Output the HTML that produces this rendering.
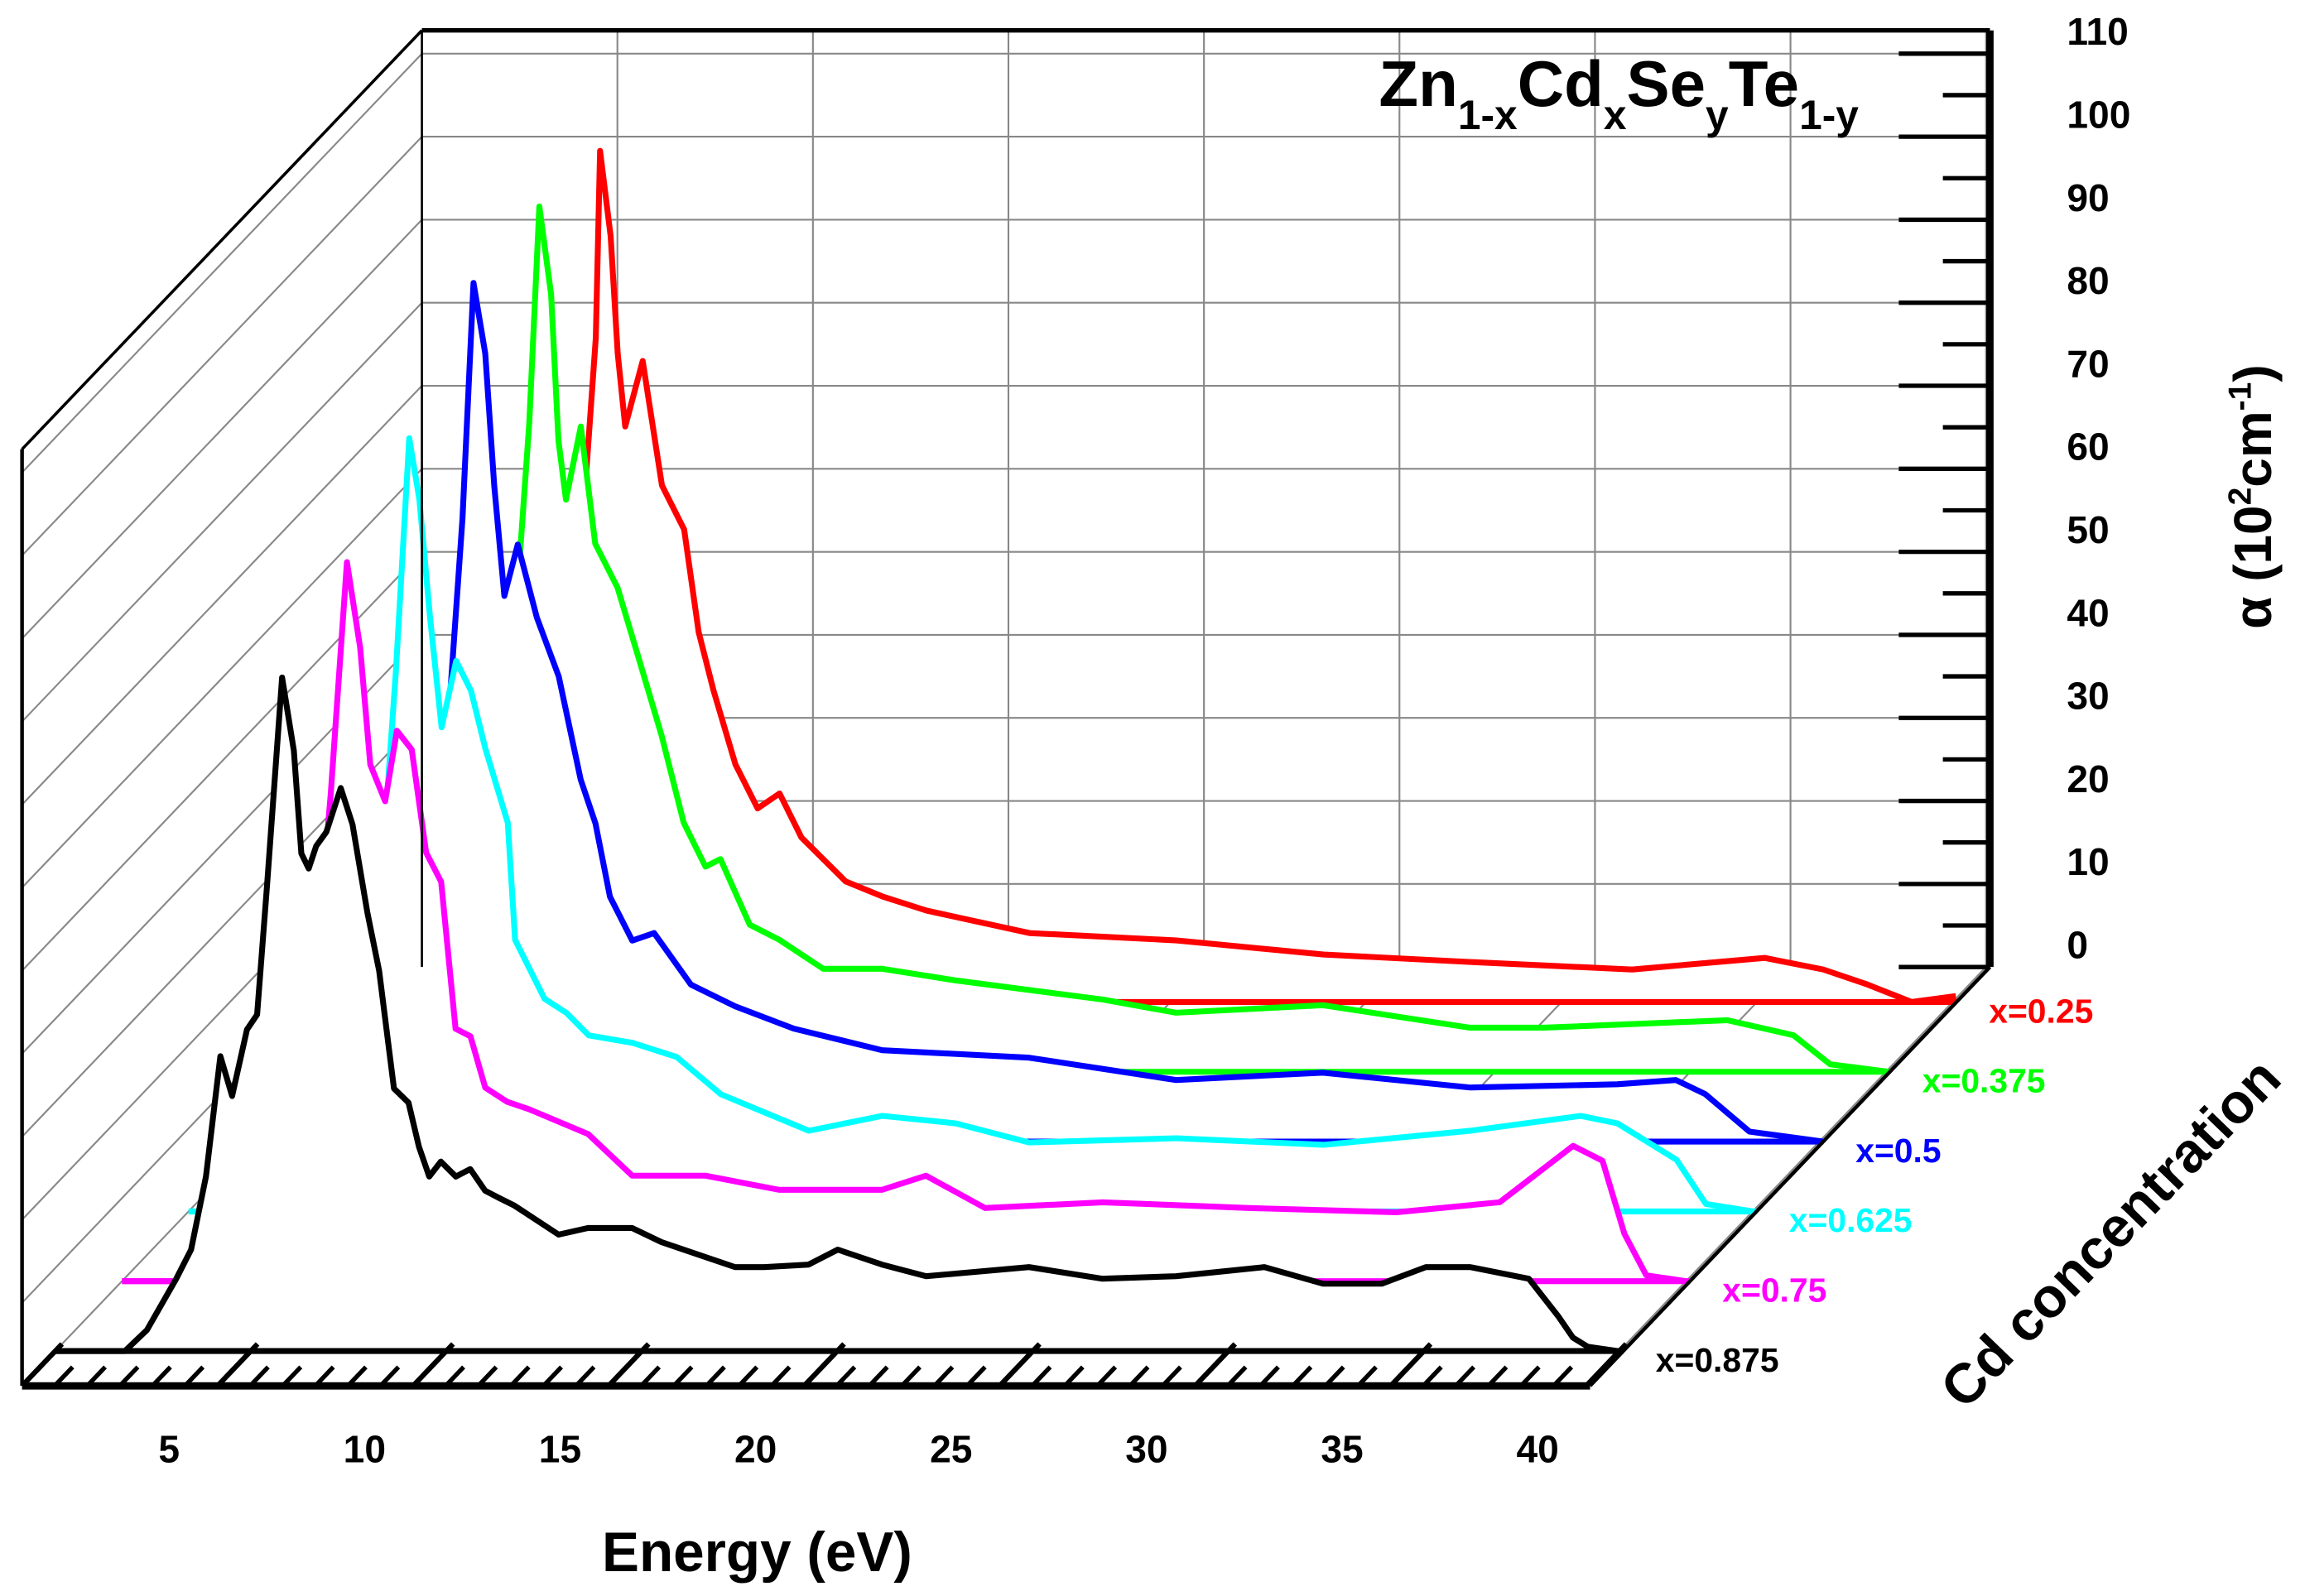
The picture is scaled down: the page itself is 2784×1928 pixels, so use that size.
<!DOCTYPE html>
<html><head><meta charset="utf-8"><style>
html,body{margin:0;padding:0;background:#fff;}
svg{display:block;}
text{font-family:"Liberation Sans",Arial,sans-serif;font-weight:bold;}
</style></head><body>
<svg id="chart" xmlns="http://www.w3.org/2000/svg" width="2784" height="1928" viewBox="0 0 1568 1086" preserveAspectRatio="none">
<g id="grid"></g>
<g id="series"></g>
<g id="axes"></g>
<text x="938" y="72" font-size="44" style="font-family:'Liberation Sans Narrow','Liberation Sans',sans-serif">Zn<tspan font-size="28" dy="16">1-x</tspan><tspan dy="-16">Cd</tspan><tspan font-size="28" dy="16">x</tspan><tspan dy="-16">Se</tspan><tspan font-size="28" dy="16">y</tspan><tspan dy="-16">Te</tspan><tspan font-size="28" dy="16">1-y</tspan></text>
<text x="515" y="1069" font-size="38" text-anchor="middle">Energy (eV)</text>
<text transform="translate(1545,338) rotate(-90)" font-size="36" text-anchor="middle">α (10<tspan font-size="22" dy="-14">2</tspan><tspan dy="14">cm</tspan><tspan font-size="22" dy="-14">-1</tspan><tspan dy="14">)</tspan></text>
<text transform="translate(1445,848) rotate(-46)" font-size="38" text-anchor="middle">Cd concentration</text>
</svg>
<script>
const NS="http://www.w3.org/2000/svg";
// ---- data ----
const seriesNames=["x=0.25","x=0.375","x=0.5","x=0.625","x=0.75","x=0.875"];
const seriesColors=["#ff0000","#00ff00","#0000ff","#00ffff","#ff00ff","#000000"];
const energyTicks=[5,10,15,20,25,30,35,40];
const alphaTicks=[0,10,20,30,40,50,60,70,80,90,100,110];
const eRed=[0,1.8,2.4,3.1,3.5,3.9,4.3,4.6,5.0,5.3,5.41,5.68,5.86,6.05,6.5,6.99,7.56,7.93,8.31,8.87,9.44,10,10.56,11.69,12.63,13.76,16.39,20.15,23.91,27.67,31.8,35.19,36.69,37.82,38.95,40.08];
const aRed=[0,0,3,11,16,27,44,42,60,80,102.5,92.2,78.1,69.3,77.2,62.2,56.9,44.5,37.5,28.6,23.3,25.1,19.8,14.5,12.7,11,8.3,7.4,5.7,4.8,3.9,5.3,3.9,2.1,0,0.7];
const eGreen=[0,1.8,2.4,3.1,3.5,3.9,4.3,4.6,5.0,5.3,5.56,5.86,6.05,6.24,6.62,6.99,7.56,8.12,8.68,9.25,9.81,10.19,10.94,11.69,12.82,14.32,16.2,19.96,21.84,25.6,29.36,31.24,35.94,37.63,38.57,40.08];
const aGreen=[0,0,3,11,16,27,44,40,58,78,104.2,93.6,76,68.9,77.7,63.6,58.3,49.5,40.6,30,24.7,25.6,17.7,15.9,12.4,12.4,11,8.7,7.1,8,5.3,5.3,6.2,4.4,0.9,0];
const eBlue=[0,1.8,2.4,3.1,3.5,3.9,4.3,4.6,5.0,5.3,5.58,5.88,6.11,6.37,6.71,7.2,7.76,8.32,8.7,9.07,9.64,10.2,11.14,12.27,13.77,16.03,19.79,23.55,27.3,31.07,34.83,36.33,37.08,38.21,40.09];
const aBlue=[0,0,3,11,15,26,42,38,55,75,103.4,94.9,79,65.7,71.9,63.1,56,43.6,38.3,29.5,24.2,25.1,18.9,16.3,13.6,11,10.1,7.4,8.3,6.5,6.9,7.4,5.7,1.2,0];
const eCyan=[0,1.8,2.4,3.1,3.5,3.9,4.3,4.6,5.0,5.3,5.64,5.9,6.17,6.47,6.84,7.22,7.59,8.16,8.35,9.1,9.66,10.23,11.35,12.48,13.61,15.86,17.74,19.62,21.5,25.26,29.02,32.78,35.6,36.54,38.05,38.8,40];
const aCyan=[0,0,3,10,14,24,38,33,45,65,93.1,85.7,71.6,58.3,66.3,62.7,55.7,46.8,32.7,25.6,23.9,21.2,20.3,18.6,14.1,9.7,11.5,10.6,8.3,8.8,8,9.7,11.5,10.6,6.2,0.9,0];
const eMagenta=[0,1.8,2.4,3.1,3.5,3.9,4.3,4.6,5.0,5.34,5.75,6.09,6.35,6.73,7.03,7.41,7.78,8.16,8.53,8.91,9.29,9.85,10.41,11.92,13.05,14.92,16.8,19.44,20.56,22.07,25.08,28.83,32.59,35.23,37.11,37.86,38.42,38.98,40];
const aMagenta=[0,0,2.5,9,13,22,36,31,40,58.7,86.6,76.3,62.2,57.8,66.3,64,51.6,48.1,30.4,29.5,23.3,21.6,20.7,17.7,12.7,12.7,11,11,12.7,8.8,9.5,8.8,8.3,9.5,16.3,14.5,5.7,0.7,0];
const eBlack=[0,1.78,2.34,3.09,3.47,3.85,4.22,4.52,4.9,5.16,5.42,5.8,6.1,6.29,6.48,6.67,6.93,7.3,7.6,7.98,8.28,8.66,9.03,9.3,9.56,9.86,10.24,10.61,10.99,11.36,11.74,12.87,13.62,14.75,15.5,16.63,17.38,18.13,19.26,20.01,21.14,22.27,24.9,26.78,28.66,30.92,32.42,33.92,35.05,36.18,37.68,38.43,38.81,39.19,39.94];
const aBlack=[0,0,2.5,8.7,12.2,21,35.5,30.7,38.7,40.5,56.4,81.1,72.3,59.9,58.1,60.8,62.5,67.8,63.4,52.8,45.8,31.6,29.9,24.6,21,22.8,21,21.9,19.3,18.4,17.5,14,14.8,14.8,13.1,11.3,10.1,10.1,10.4,12.2,10.4,9,10.1,8.7,9,10.1,8.1,8.1,10.1,10.1,8.7,4.2,1.6,0.5,0];
const seriesE=[eRed,eGreen,eBlue,eCyan,eMagenta,eBlack];
const seriesA=[aRed,aGreen,aBlue,aCyan,aMagenta,aBlack];
// ---- geometry ----
const X0=15,Y0=943,PXE=26.6,PXA=5.65,DX=272,DY=-285,EMAX=40.1,AMAX=112.8,NS_=6;
function xE(e,depth){return X0+e*PXE+depth*DX;}
function yA(a,depth){return Y0+depth*DY-a*PXA;}
function mk(tag,attrs,parent){const el=document.createElementNS(NS,tag);for(const k in attrs)el.setAttribute(k,attrs[k]);parent.appendChild(el);return el;}
const grid=document.getElementById('grid'),ser=document.getElementById('series'),axes=document.getElementById('axes');
for(let v=10;v<=110;v+=10){
 let l=mk('line',{x1:xE(0,1),y1:yA(v,1),x2:xE(EMAX,1),y2:yA(v,1),stroke:'#888','stroke-width':1.2},grid);
 
 
 let d=mk('line',{x1:xE(0,0),y1:yA(v,0),x2:xE(0,1),y2:yA(v,1),stroke:'#888','stroke-width':1.2},grid);
 
 
}
for(const e of energyTicks){
 if(e>=EMAX)continue;
 let l=mk('line',{x1:xE(e,1),y1:yA(0,1),x2:xE(e,1),y2:yA(AMAX,1),stroke:'#888','stroke-width':1.2},grid);
 
 
 let f=mk('line',{x1:xE(e,0),y1:yA(0,0),x2:xE(e,1),y2:yA(0,1),stroke:'#888','stroke-width':1.2},grid);
 
 
}
mk('line',{x1:xE(0,0),y1:yA(0,0),x2:xE(0,1),y2:yA(0,1),stroke:'#888','stroke-width':1.2},grid);
for(let s=0;s<NS_;s++){
 const depth=(NS_-1-s+0.5)/NS_;
 const E=seriesE[s],A=seriesA[s];
 let pts=E.map((e,i)=>xE(e,depth).toFixed(1)+','+yA(A[i],depth).toFixed(1));
 const base=yA(0,depth).toFixed(1);
 const g=mk('g',{},ser);
 
 
 const fill=mk('polygon',{points:pts.join(' ')+' '+xE(E[E.length-1],depth).toFixed(1)+','+base+' '+xE(E[0],depth).toFixed(1)+','+base,fill:'#fff',stroke:'none'},g);
 
 
 const bl=mk('line',{x1:xE(0,depth),y1:base,x2:xE(EMAX,depth),y2:base,stroke:seriesColors[s],'stroke-width':4},g);
 
 
 const pl=mk('polyline',{points:pts.join(' '),fill:'none',stroke:seriesColors[s],'stroke-width':4,'stroke-linejoin':'round'},g);
 
 
 const lb=mk('text',{x:xE(EMAX,depth)+22,y:+base+14,'font-size':23,fill:seriesColors[s]},g);
 lb.textContent=seriesNames[s];
 
 
}
const fr=[[xE(0,0),yA(AMAX,0),xE(0,1),yA(AMAX,1),2],[xE(0,1),yA(AMAX,1),xE(EMAX,1),yA(AMAX,1),3],[xE(0,0),yA(AMAX,0),xE(0,0),yA(0,0),2.5],[xE(0,1),yA(AMAX,1),xE(0,1),yA(0,1),1.5],[xE(EMAX,0),yA(0,0),xE(EMAX,1),yA(0,1),2.5],[xE(EMAX,1),yA(0,1),xE(EMAX,1),yA(AMAX,1),5],[xE(0,0),yA(0,0),xE(EMAX,0),yA(0,0),5]];
for(const f of fr){
 const l=mk('line',{x1:f[0],y1:f[1],x2:f[2],y2:f[3],stroke:'#000','stroke-width':f[4]},axes);
 
 
}
for(let k=0;k<=48;k++){
 const e=k*5/6;
 if(e>EMAX)break;
 const major=(k%6===0);
 const t=major?0.1:0.045;
 const l=mk('line',{x1:xE(e,0),y1:yA(0,0),x2:xE(e,t),y2:yA(0,t),stroke:'#000','stroke-width':major?3.5:3},axes);
 
 
}
for(const e of energyTicks){
 const t=mk('text',{x:xE(e,0)-33,y:995,'font-size':26,'text-anchor':'middle'},axes);
 t.textContent=e;
 
 
}
for(let v=0;v<=110;v+=5){
 const major=(v%10===0);
 const l=mk('line',{x1:xE(EMAX,1)-(major?62:32),y1:yA(v,1),x2:xE(EMAX,1),y2:yA(v,1),stroke:'#000','stroke-width':3},axes);
 
 
}
for(const v of alphaTicks){
 const t=mk('text',{x:1406,y:yA(v,1)-6,'font-size':26},axes);
 t.textContent=v;
 
 
}
</script>
</body></html>
